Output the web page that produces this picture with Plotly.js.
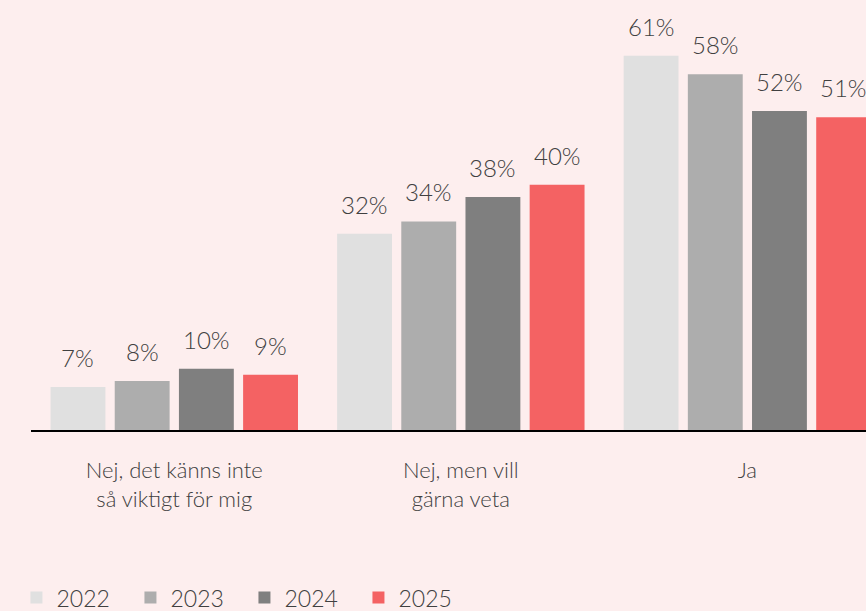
<!DOCTYPE html>
<html>
<head>
<meta charset="utf-8">
<script src="https://cdn.plot.ly/plotly-3.0.1.min.js"></script>
<style>html,body{margin:0;padding:0;background:#fdeeee;}</style>
</head>
<body>
<div id="chart" style="width:866px;height:611px;"></div>
<script>
const categories = ["Nej, det känns inte<br>så viktigt för mig", "Nej, men vill<br>gärna veta", "Ja"];
const years = ["2022", "2023", "2024", "2025"];
const v2022 = [7, 32, 61];
const v2023 = [8, 34, 58];
const v2024 = [10, 38, 52];
const v2025 = [9, 40, 51];
const colors = ["#e0e0e0", "#adadad", "#7f7f7f", "#f46263"];

const series = [v2022, v2023, v2024, v2025];
const bargap = 0.104;
const textColor = "#404040";
const font = "Lato, 'Open Sans', sans-serif";

const traces = series.map((vals, i) => ({
  type: "bar",
  name: years[i],
  x: categories.map((c, k) => k),
  y: vals,
  marker: {color: colors[i]},
  hoverinfo: "none"
}));

const slot = (1 - bargap) / series.length;
const annotations = [];
series.forEach((vals, i) => {
  vals.forEach((v, k) => {
    annotations.push({
      x: k + (i - (series.length - 1) / 2) * slot,
      y: v, xref: "x", yref: "y",
      text: v + "%", showarrow: false,
      yanchor: "bottom", yshift: 13,
      font: {family: font, size: 24, color: textColor, weight: 300}
    });
  });
});

const layout = {
  width: 866, height: 611,
  margin: {l: 31, r: 0, t: 0, b: 181, autoexpand: false},
  paper_bgcolor: "#fdeeee", plot_bgcolor: "#fdeeee",
  barmode: "group", bargap: bargap, bargroupgap: 0.145,
  font: {family: font, color: textColor, weight: 300},
  xaxis: {
    range: [-0.5, 2.414],
    tickmode: "array", tickvals: [0, 1, 2], ticktext: categories,
    showgrid: false, zeroline: false,
    showline: true, linecolor: "#000000", linewidth: 2,
    ticks: "", ticklabelstandoff: 20,
    tickfont: {family: font, size: 22, color: textColor, weight: 300},
    fixedrange: true
  },
  yaxis: {
    range: [0, 70.1], visible: false, fixedrange: true
  },
  legend: {
    orientation: "h", xref: "container", yref: "container",
    x: 0.019, y: 0.057, xanchor: "left", yanchor: "top",
    entrywidth: 69, entrywidthmode: "pixels",
    font: {family: font, size: 23, color: textColor, weight: 300},
    bgcolor: "rgba(0,0,0,0)"
  },
  annotations: annotations,
  showlegend: true
};

Plotly.newPlot("chart", traces, layout, {displayModeBar: false, staticPlot: true});
</script>
</body>
</html>
